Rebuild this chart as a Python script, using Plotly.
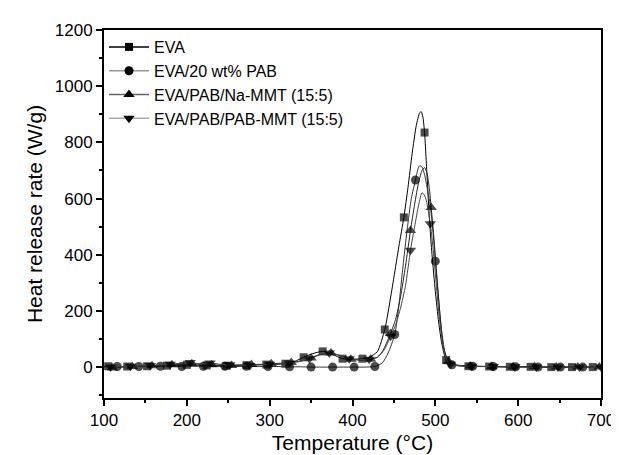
import plotly.graph_objects as go

# ---------------- data ----------------
eva_T = [100,105,117,128,140,152,164,176,188,200,212,224,236,248,260,272,284,296,308,319,330,341,352,364,376,388,400,412,420,430,439,445,450,456,462,467,472,477,481,483,485,487,490,493,496,500,504,508,513,518,525,540,552,565,577,590,602,615,627,640,652,665,677,690,700]
eva_hrr = [2,3,2,2,3,3,4,5,6,8,7,6,5,5,6,7,8,9,10,12,20,35,48,56,45,30,28,30,35,55,134,230,320,430,533,640,760,860,905,909,890,835,680,520,400,270,160,80,25,10,6,3,2,2,1,1,1,1,0,0,0,0,0,0,0]
eva_marks = [105,128,152,176,200,224,248,272,296,319,341,364,388,412,439,462,487,513,540,565,590,615,640,665,690]

pab_T = [100,116,129,142,155,168,181,194,207,220,233,246,259,272,285,298,311,324,337,350,363,376,389,402,414,427,436,443,451,456,461,466,471,476,479,481,484,487,490,493,496,500,504,508,512,516,520,532,545,557,570,583,597,610,624,637,651,664,678,690,700]
pab_hrr = [0,2,1,2,2,3,2,2,3,3,2,3,2,3,2,2,2,1,1,0,0,0,0,0,0,2,15,50,116,220,360,490,600,666,705,717,712,685,640,590,520,377,240,120,45,15,8,4,3,2,2,1,1,1,0,0,0,0,0,0,0]
pab_marks = [116,142,168,194,220,246,272,298,324,350,376,402,427,451,476,500,520,545,570,597,624,651,678]

na_T = [100,110,122,134,146,158,170,182,194,206,218,230,242,254,266,278,290,302,314,326,338,350,362,374,386,398,410,422,430,436,441,446,452,458,464,470,475,480,484,487,490,493,495,498,502,506,510,516,522,530,542,555,568,581,594,607,620,633,646,659,672,685,698,700]
na_hrr = [0,-3,0,2,3,5,6,8,10,12,10,8,7,6,8,9,10,12,14,16,22,32,45,50,40,28,25,28,35,55,85,120,170,250,360,486,580,660,700,710,690,630,568,470,320,170,70,20,10,6,4,3,2,2,1,1,1,0,0,0,0,0,0,0]
na_marks = [110,134,158,182,206,230,254,278,302,326,350,374,398,422,446,470,495,516,542,568,594,620,646,672,698]

pm_T = [100,108,120,132,144,156,168,180,192,204,216,228,240,252,264,276,288,300,312,324,336,348,360,372,384,396,408,420,430,438,446,452,458,464,470,475,480,484,488,491,494,497,501,505,509,513,518,525,532,544,557,570,583,596,609,622,635,648,661,674,687,700]
pm_hrr = [-2,0,2,3,4,6,8,10,14,16,12,15,10,8,7,6,8,10,12,15,20,30,45,50,42,30,26,28,35,60,110,150,210,290,416,500,580,621,605,565,510,430,300,170,80,30,10,6,4,3,2,2,1,1,0,0,0,0,0,0,0,0]
pm_marks = [108,132,156,180,204,228,252,276,300,324,348,372,396,420,446,470,494,518,544,570,596,622,648,674,700]

series_names = ["EVA", "EVA/20 wt% PAB", "EVA/PAB/Na-MMT (15:5)", "EVA/PAB/PAB-MMT (15:5)"]
x_ticks = [100, 200, 300, 400, 500, 600, 700]
y_ticks = [0, 200, 400, 600, 800, 1000, 1200]

data = [(eva_T, eva_hrr, eva_marks), (pab_T, pab_hrr, pab_marks),
        (na_T, na_hrr, na_marks), (pm_T, pm_hrr, pm_marks)]
for T, H, M in data:
    assert len(T) == len(H), (len(T), len(H))
    for m in M:
        assert m in T, m

# ---------------- styling ----------------
symbols = ["square", "circle", "triangle-up", "triangle-down"]
msizes = [8, 9, 10, 10]
line_colors = ["#000000", "#333333", "#222222", "#444444"]
legend_colors = ["#000000", "#999999", "#666666", "#aaaaaa"]
FONT = "Liberation Sans, Arial, sans-serif"

fig = go.Figure()
for i, (T, H, M) in enumerate(data):
    sizes = [msizes[i] if t in M else 0 for t in T]
    fig.add_trace(go.Scatter(
        x=T, y=H, mode="lines+markers",
        line=dict(color=line_colors[i], width=1, shape="spline", smoothing=0.6),
        marker=dict(symbol=symbols[i], size=sizes, color="black", line=dict(width=0)),
        showlegend=False, hoverinfo="skip"))
for i, name in enumerate(series_names):
    fig.add_trace(go.Scatter(
        x=[None], y=[None], mode="lines+markers", name=name,
        line=dict(color=legend_colors[i], width=1.5),
        marker=dict(symbol=symbols[i], size=msizes[i], color="black", line=dict(width=0))))

axis_common = dict(
    showline=True, linewidth=2, linecolor="black", mirror=True,
    ticks="outside", tickwidth=1.5, ticklen=6, tickcolor="black",
    showgrid=False, zeroline=False,
    tickfont=dict(family=FONT, size=17, color="black"),
)

fig.update_xaxes(
    range=[100, 700], tickvals=x_ticks, ticktext=[str(v) for v in x_ticks],
    minor=dict(dtick=50, ticklen=3, tickwidth=1.5, ticks="outside", tickcolor="black"),
    title=dict(text="Temperature (°C)", font=dict(family=FONT, size=21, color="black"), standoff=6),
    **axis_common)
fig.update_yaxes(
    range=[-110, 1200], tickvals=y_ticks, ticktext=[str(v) for v in y_ticks],
    minor=dict(dtick=100, ticklen=3, tickwidth=1.5, ticks="outside", tickcolor="black"),
    title=dict(text="Heat release rate (W/g)", font=dict(family=FONT, size=21, color="black"), standoff=6),
    **axis_common)

fig.update_layout(
    width=619, height=455,
    margin=dict(l=96, r=15, t=22, b=61),
    paper_bgcolor="white", plot_bgcolor="white",
    legend=dict(x=0.0, y=1.0, xanchor="left", yanchor="top",
                bgcolor="rgba(0,0,0,0)", itemwidth=40,
                font=dict(family=FONT, size=16, color="black"),
                tracegroupgap=0),
)

fig.write_html("out.html")
